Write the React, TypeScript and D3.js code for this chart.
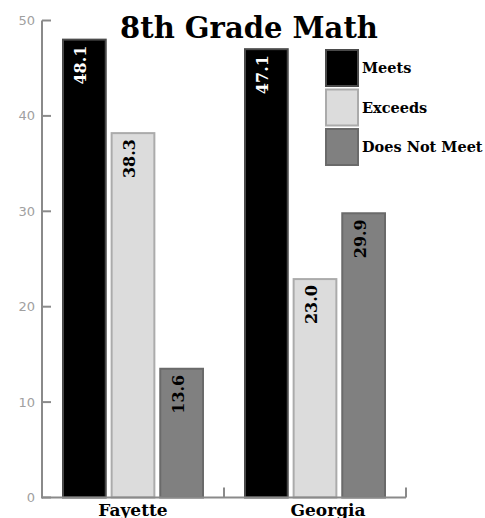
import React from "react";
import * as d3 from "d3";

const categories = ["Fayette", "Georgia"];
const seriesNames = ["Meets", "Exceeds", "Does Not Meet"];
const meetsValues = [48.1, 47.1];
const exceedsValues = [38.3, 23.0];
const doesNotMeetValues = [13.6, 29.9];
const yTicks = [0, 10, 20, 30, 40, 50];

const fills = ["#000000", "#dcdcdc", "#808080"];
const strokes = ["#4a4a4a", "#ababab", "#6a6a6a"];
const labelColors = ["#ffffff", "#000000", "#000000"];

const W = 485;
const H = 518;
const serif = "'DejaVu Serif', Georgia, serif";

export default function App() {
  const seriesValues = [meetsValues, exceedsValues, doesNotMeetValues];
  const left = 42;
  const right = 406;
  const top = 20.5;
  const bottom = 497.5;

  const y = d3.scaleLinear().domain([0, 50]).range([bottom, top]);
  const x0 = d3.scaleBand<string>().domain(categories).range([left, right]).padding(0);
  const x1 = d3
    .scaleBand<string>()
    .domain(seriesNames)
    .range([20, x0.bandwidth() - 20])
    .paddingInner(0.08)
    .paddingOuter(0);

  return (
    <svg
      width={W}
      height={H}
      style={{ position: "absolute", left: 0, top: 0, display: "block", background: "#fff" }}
    >
      {/* title */}
      <text x={249} y={38} textAnchor="middle" fontFamily={serif} fontWeight="bold" fontSize={29} fill="#000">
        8th Grade Math
      </text>

      {/* bars */}
      {categories.map((c, ci) => (
        <g key={c} transform={`translate(${x0(c)},0)`}>
          {seriesNames.map((s, si) => {
            const v = seriesValues[si][ci];
            const bx = x1(s)!;
            const bw = x1.bandwidth();
            const by = y(v);
            return (
              <g key={s}>
                <rect
                  x={bx + 1}
                  y={by + 1}
                  width={bw - 2}
                  height={bottom - by - 1}
                  fill={fills[si]}
                  stroke={strokes[si]}
                  strokeWidth={2}
                />
                <text
                  transform={`translate(${bx + bw / 2 + 2},${by + 7}) rotate(-90)`}
                  textAnchor="end"
                  fontFamily={serif}
                  fontWeight="bold"
                  fontSize={16}
                  fill={labelColors[si]}
                >
                  {v.toFixed(1)}
                </text>
              </g>
            );
          })}
        </g>
      ))}

      {/* y axis */}
      <line x1={left} x2={left} y1={y(50)} y2={bottom + 1} stroke="#8a8a8a" strokeWidth={2} />
      {yTicks.map((t) => (
        <g key={t}>
          <line x1={left} x2={left + 9} y1={y(t)} y2={y(t)} stroke="#8a8a8a" strokeWidth={2} />
          <text
            x={35}
            y={y(t)}
            dy="0.35em"
            textAnchor="end"
            fontFamily="'DejaVu Sans', sans-serif"
            fontSize={13}
            fill="#a0a0a0"
          >
            {t}
          </text>
        </g>
      ))}

      {/* x axis */}
      <line x1={left} x2={right} y1={bottom} y2={bottom} stroke="#8a8a8a" strokeWidth={2} />
      {categories.map((c) => (
        <line
          key={c}
          x1={x0(c)! + x0.bandwidth()}
          x2={x0(c)! + x0.bandwidth()}
          y1={bottom}
          y2={bottom - 10}
          stroke="#8a8a8a"
          strokeWidth={2}
        />
      ))}
      {categories.map((c, ci) => (
        <text
          key={c}
          x={x0(c)! + x0.bandwidth() / 2 + ci * 13}
          y={516}
          textAnchor="middle"
          fontFamily={serif}
          fontWeight="bold"
          fontSize={17}
          fill="#000"
        >
          {c}
        </text>
      ))}

      {/* legend */}
      {seriesNames.map((s, si) => (
        <g key={s} transform={`translate(326,${50 + si * 39.5})`}>
          <rect x={0} y={0} width={32} height={36} fill={fills[si]} stroke={strokes[si]} strokeWidth={2} />
          <text x={36} y={23} fontFamily={serif} fontWeight="bold" fontSize={14.5} fill="#000">
            {s}
          </text>
        </g>
      ))}
    </svg>
  );
}
